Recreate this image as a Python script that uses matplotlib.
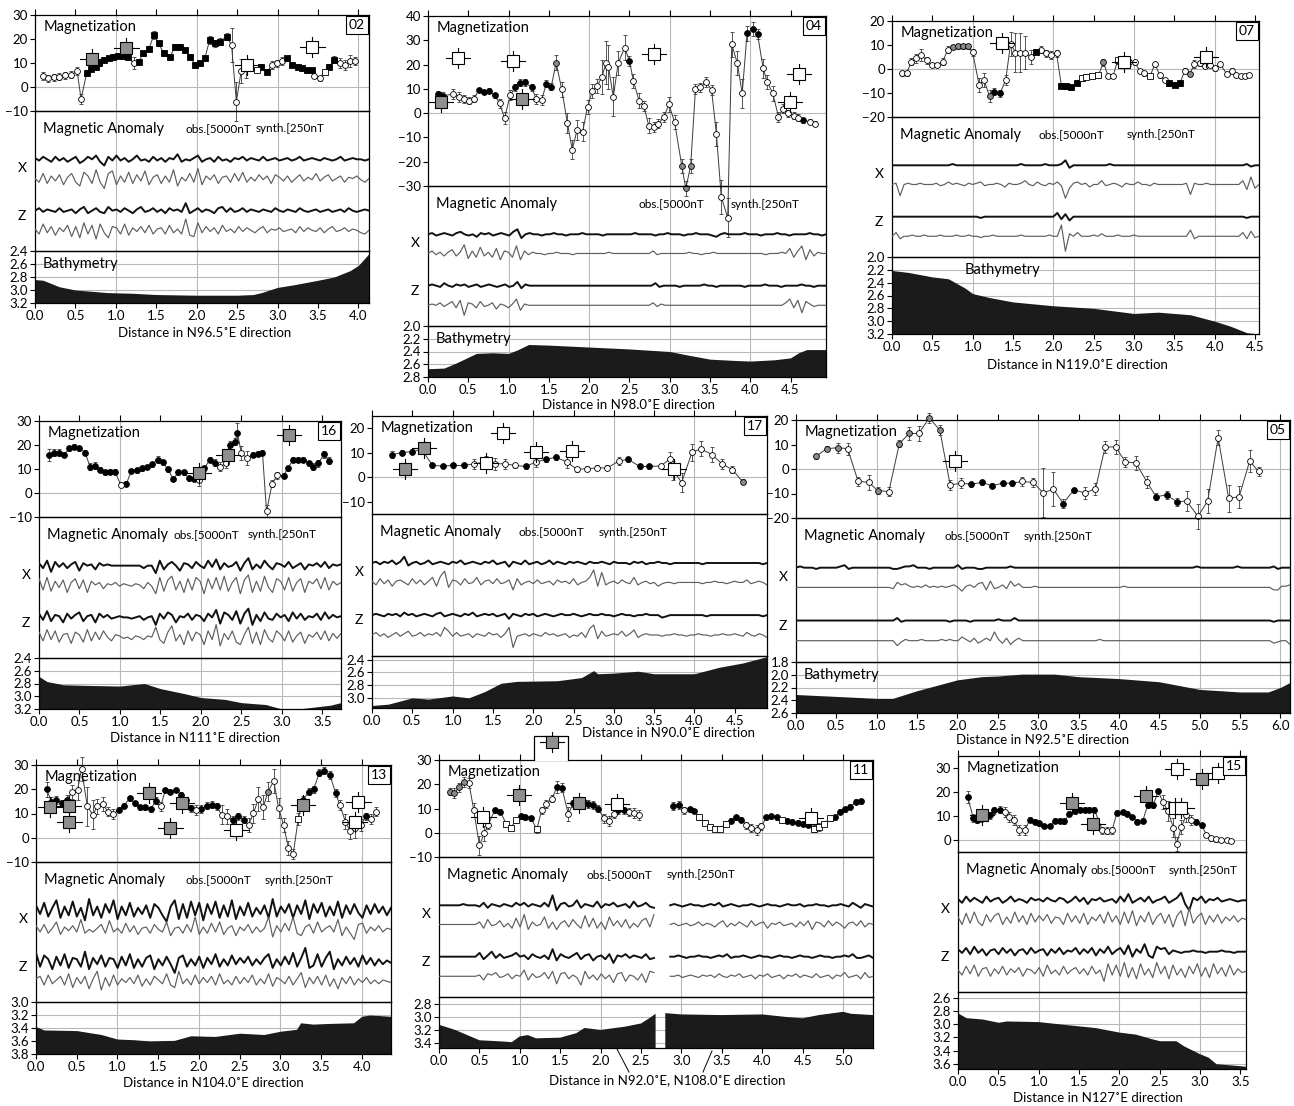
import numpy as np
import matplotlib
matplotlib.use("Agg")
import matplotlib.pyplot as plt
from matplotlib.lines import Line2D
from matplotlib.patches import Rectangle

plt.rcParams['font.family'] = ['Lato', 'DejaVu Sans']

W, H = 1294, 1106
fig = plt.figure(figsize=(W / 100, H / 100), dpi=100)

# ---------------------------------------------------------------- panel 02
P02_MX = [0.10,0.16,0.23,0.30,0.37,0.45,0.52,0.57,0.64,0.69,0.75,0.79,0.85,0.91,0.97,1.03,1.09,1.15,1.22,1.28,1.34,1.41,1.47,1.53,1.59,1.67,1.73,1.79,1.85,1.92,1.98,2.04,2.10,2.16,2.23,2.29,2.37,2.43,2.49,2.55,2.61,2.66,2.75,2.80,2.87,2.93,2.99,3.05,3.12,3.18,3.25,3.30,3.36,3.42,3.45,3.52,3.58,3.64,3.70,3.77,3.83,3.90,3.96]
P02_MY = [4.6,3.6,4.0,4.3,4.9,5.1,6.7,-5.0,6.0,7.5,8.5,9.9,11.3,12.0,12.6,13.0,13.0,12.6,9.9,10.5,14.0,16.0,21.7,18.2,14.0,12.6,16.8,16.8,15.4,12.6,9.2,9.9,12.0,19.6,18.2,18.9,21.0,17.5,-6.1,6.7,7.8,8.5,7.1,8.5,6.4,9.2,9.9,10.8,12.0,9.2,8.5,7.8,7.1,7.1,4.6,3.6,6.4,8.5,11.3,9.9,9.2,10.8,10.8]
P02_ME = [1.5,1.5,1.5,1.5,1.5,1.5,1.5,2,1,1,1,1,1,1,1,1,1,1,2.5,1,1,1,1.5,1,1,1,1,1,1,1,1,1,1,1.5,1.5,1.5,1.5,7,8,5,4,1,1,1,1,1.5,1.5,1.5,1,1,1,1,1,1,1,1,1,1,1.5,2,2,2.5,1.5]
P02_MT = "oooooooo" + "SSSSSSSSSS" + "o" + "SSSSSSSSSSSSSSSSSS" + "oooo" + "S" + "s" + "SS" + "ooo" + "SSSSSS" + "oo" + "s" + "SS" + "oooo"
P02_SQX = [0.71, 1.13, 2.62, 3.43]
P02_SQY = [11.5, 16.4, 9.2, 16.8]
P02_SQC = "ggww"
P02_OBSX = [1,-1,2,0,-2,2,-1,1,-2,0, 2,-3,-1,2,0,3,-2,-5,2,-1, 3,-1,1,-2,0,3,-1,0,-2,2, -1,1,-2,1,0,4,-2,0,-1,1, 3,-2,0,1,-2,2,-1,0,-2,1, 0,2,-1,1,0,-1,2,-1,0,1, -1,0,1,-1,0,2,-1,0,1,0, -1,1,0,-1,0,2,-1,0,1,0, 0,-1,0]
P02_SYNX = [0,-3,4,-4,2,-2,3,-5,1,4, -3,-6,5,2,-4,7,-3,-8,4,6, -5,2,-3,5,-4,3,-2,6,-5,1, 3,-4,2,-3,7,-6,1,-2,4,-3, 8,-5,2,-1,3,-4,1,2,-3,4, -2,5,-3,1,-2,3,-1,2,-4,3, 1,-2,2,-3,0,3,-2,1,-1,4, -2,1,3,-2,0,2,-3,1,0,2, -1,-3,0]
P02_OBSZ = [0,2,-1,1,0,-1,2,-1,0,1, -2,1,3,-2,0,2,-1,-2,3,0, 1,-1,2,0,-2,1,3,-1,0,2, -1,1,-2,2,0,1,-1,6,-2,0, 2,-1,1,0,-2,2,3,-1,2,-1, 0,2,-1,1,0,-1,1,0,-1,2, 0,-1,1,0,-1,2,0,-1,0,1, -1,0,1,-1,0,1,-1,2,0,-1, 0,1,0]
P02_SYNZ = [1,-3,5,-2,3,-4,2,-1,4,-5, 3,-6,6,-3,4,-7,5,-2,-6,3, 2,-3,5,-4,2,-1,3,-2,4,-3, 1,2,-3,4,-2,1,-3,9,-4,-5, 6,-2,3,-1,2,-3,4,-1,1,-2, 3,-1,2,0,-2,1,3,-2,1,0, 2,-1,0,1,-2,3,-1,2,0,-1, 2,-2,1,3,-1,0,2,-1,1,0, -2,-3,0]
P02_BX = [0,0.1,0.3,0.5,0.7,0.9,1.2,1.5,2.0,2.5,2.7,2.8,3.0,3.2,3.5,3.7,3.9,4.0,4.13]
P02_BY = [2.84,2.85,2.95,3.0,3.02,3.04,3.05,3.07,3.08,3.08,3.07,3.04,2.96,2.92,2.85,2.80,2.70,2.62,2.44]

# ---------------------------------------------------------------- panel 04
P04_MX = [0.12,0.19,0.31,0.38,0.45,0.51,0.57,0.63,0.70,0.76,0.83,0.89,0.95,1.02,1.08,1.14,1.20,1.29,1.34,1.41,1.47,1.53,1.59,1.66,1.73,1.79,1.85,1.92,1.98,2.04,2.10,2.16,2.21,2.24,2.30,2.36,2.44,2.50,2.55,2.62,2.68,2.74,2.80,2.86,2.93,2.99,3.06,3.15,3.20,3.26,3.32,3.38,3.45,3.52,3.58,3.64,3.72,3.77,3.84,3.90,3.96,4.03,4.09,4.16,4.21,4.28,4.35,4.41,4.47,4.54,4.59,4.66,4.74,4.80]
P04_MY = [7.7,7.2,7.8,6.7,5.8,5.1,5.9,9.5,8.7,9.2,7.3,4.0,-2.1,7.4,10.6,12.5,12.7,10.6,5.9,5.4,12.2,10.9,20.8,9.8,-4.0,-15.0,-7.0,-7.6,2.6,9.2,11.1,15.0,20.8,19.0,6.7,20.5,27.0,21.6,13.2,5.1,2.9,-5.2,-5.6,-4.3,-1.5,3.6,-3.6,-21.7,-31.0,-21.7,10.0,10.6,12.8,9.5,-8.7,-34.5,-43.0,28.3,20.5,8.1,32.9,34.7,32.6,18.4,12.9,8.1,-1.5,1.9,-0.1,-1.0,-1.8,-2.9,-3.6,-4.3]
P04_ME = [1.5,1.5,2,2,1.5,1.5,1.5,1,1,1,1,2,2.5,2,1.5,1.5,1.5,1.5,2,2,1.5,1.5,3,3,4,4,4,4,3,3,3,7,9,9,8,5,5,2,3,3,2,3,2,2,2,3,3,3,3,3,2,2,2,2,5,7,8,5,5,6,3,3,2,4,3,3,2,2,1.5,1.5,1.5,1,1,1]
P04_MT = "kk" + "ooooo" + "kkkk" + "ooo" + "kkkk" + "oo" + "kk" + "g" + "oooooooooooooo" + "k" + "ooooooooo" + "ggg" + "oooooooooo" + "kkk" + "oooooooo" + "k" + "oo"
P04_SQX = [0.16, 0.37, 1.06, 1.17, 2.80, 4.60, 4.49]
P04_SQY = [4.7, 22.6, 21.5, 6.0, 24.3, 16.1, 4.7]
P04_SQC = "gwwgwww"
P04_OBSX = [0,1,-1,0,1,0,-1,1,2,0, -1,0,-2,1,0,1,-1,0,1,0, -1,2,4,-3,0,1,0,0,-1,0, 0,1,0,0,-1,0,0,0,1,0, 0,0,0,-1,0,0,0,0,0,0, 0,1,0,0,0,0,-1,0,0,1, 0,0,0,-1,0,0,1,0,0,0, -1,-2,0,1,0,0,0,0,1,0, 0,0,-1,0,0,0,1,0,0,-1, 0,0,0,0,1,0,0,-1,0]
P04_SYNX = [0,2,-1,1,-2,1,3,-2,1,7, -4,2,-3,5,-2,1,-3,4,-5,2, 1,-3,6,-5,2,-1,1,0,0,-1, 0,0,1,0,0,0,-1,0,0,0, 0,0,0,0,0,1,0,0,0,0, 0,0,0,0,0,0,2,-1,0,0, 0,0,0,0,0,1,0,0,-1,0, 0,1,0,0,0,0,0,0,0,0, 0,0,0,0,-1,0,0,0,1,0, 4,-3,2,6,-5,3,-2,1,0,0]
P04_OBSZ = [0,1,0,-1,2,0,-1,1,0,1, -1,0,1,-1,0,1,0,-1,0,1, -1,0,3,-2,1,0,0,0,0,0, 0,0,0,0,0,0,0,0,0,0, 0,0,0,0,0,0,0,0,0,0, 0,0,0,0,0,0,2,-1,0,0, 0,0,-1,0,0,0,0,0,1,0, 0,-1,0,0,0,0,0,0,-1,0, 0,0,0,1,0,0,0,-1,0,0, 0,0,1,0,0,-1,0,0,0]
P04_SYNZ = [0,1,0,2,-1,1,3,-2,4,-8, 2,1,-2,3,-1,0,2,-3,1,0, -2,1,5,-4,1,0,0,0,0,0, 0,0,0,0,0,0,0,0,0,0, 0,0,0,0,0,0,0,0,0,0, 0,0,0,0,0,0,2,-1,1,0, 0,0,0,0,0,0,0,0,0,0, 0,0,0,0,0,0,0,0,0,0, 0,0,0,0,0,0,0,0,0,2, 5,-2,4,-6,3,1,-1,0,0,0]
P04_BX = [0,0.2,0.35,0.5,0.6,0.8,1.0,1.1,1.25,1.5,2.0,2.5,3.0,3.2,3.5,3.8,4.0,4.3,4.5,4.6,4.7,4.94]
P04_BY = [2.67,2.66,2.58,2.49,2.43,2.42,2.43,2.38,2.29,2.30,2.33,2.36,2.40,2.45,2.52,2.54,2.55,2.53,2.50,2.42,2.37,2.37]

# ---------------------------------------------------------------- panel 07
P07_MX = [0.12,0.18,0.24,0.30,0.36,0.43,0.49,0.56,0.63,0.69,0.76,0.82,0.88,0.94,1.00,1.08,1.14,1.21,1.27,1.34,1.41,1.47,1.53,1.59,1.65,1.72,1.79,1.85,1.91,1.97,2.04,2.10,2.16,2.22,2.29,2.35,2.41,2.48,2.56,2.62,2.68,2.74,2.80,2.87,2.94,3.01,3.07,3.13,3.20,3.26,3.32,3.38,3.44,3.51,3.57,3.63,3.69,3.75,3.82,3.88,3.94,4.00,4.07,4.15,4.21,4.27,4.33,4.38,4.43]
P07_MY = [-1.8,-1.8,3.0,4.4,5.8,3.7,1.7,1.7,3.0,8.1,9.2,9.5,9.5,9.5,6.9,-6.6,-4.6,-11.4,-9.4,-10.1,-4.6,10.6,6.8,6.8,6.8,5.1,7.2,8.1,6.5,5.8,6.5,-6.9,-7.2,-7.6,-5.7,-3.9,-3.2,-2.9,-2.6,2.8,-2.9,-2.9,3.7,2.1,2.8,2.8,-0.8,-1.8,-2.9,2.1,-2.6,-4.6,-5.9,-6.6,-5.9,-0.7,-2.1,2.1,2.3,1.4,1.7,0.3,2.1,-2.1,-0.7,-2.5,-2.9,-2.9,-2.5]
P07_ME = [1,1,1.5,2,2.5,1.5,1,1,1.5,1.5,1,1,1,1,1.5,3,3,2.5,1.5,1.5,2,5,8,8,7,3,1,1.5,1.5,1.5,1.5,1,1,1,1,1,1,1,1,1.5,1,1,1.5,1.5,1.5,1,1,1,1,1,1,1,1,1,1,1,1,1.5,1,1,1,1,1,1,1,1,1,1,1]
P07_MT = "oooooooooo" + "gggg" + "o" + "oo" + "g" + "kk" + "o" + "ooooo" + "S" + "oooo" + "SSSS" + "ssss" + "g" + "oosooooosooo" + "SSS" + "og" + "oooooooooooo"
P07_SQX = [1.36, 2.88, 3.89]
P07_SQY = [10.9, 3.0, 5.1]
P07_SQC = "www"
P07_OBSX = [0,0,0,0,0,0,0,0,0,0, 0,0,0,0,0,1,0,0,0,0, 0,0,0,0,0,0,0,0,0,0, 0,0,1,0,0,0,0,0,1,0, 0,0,1,4,-2,0,0,0,0,0, 0,0,0,0,1,0,0,0,0,0, 0,0,0,0,0,0,0,0,0,0, 0,0,0,0,0,0,0,0,0,0, 0,0,0,0,0,0,0,0,1,-1, 0,0]
P07_SYNX = [0,1,-9,0,1,0,0,1,0,0, 0,1,-1,0,2,0,1,0,-1,1, 0,1,2,-1,0,0,1,0,-2,1, 0,0,1,3,0,-1,2,0,-1,1, 0,2,-1,-11,-3,1,2,0,1,-2, 0,0,3,-1,0,1,0,-2,1,0, 0,2,0,0,-1,1,0,0,0,0, 0,0,0,1,-8,1,0,0,1,0, 0,0,0,0,0,0,0,3,-4,6, -3,0]
P07_OBSZ = [0,0,0,0,0,0,0,0,0,0, 0,0,0,0,0,0,0,0,0,0, 0,0,-1,0,0,0,0,0,0,0, 0,0,0,0,0,0,0,0,0,0, 0,3,-2,2,-3,0,0,0,0,0, 0,0,0,0,0,0,0,0,0,0, 0,0,0,0,0,0,0,0,0,0, 0,0,0,0,0,0,0,0,0,0, 0,0,0,0,0,0,0,0,-1,0, 0,0]
P07_SYNZ = [0,3,-2,0,0,1,0,0,1,0, 0,0,1,0,0,0,1,0,0,1, 0,0,-1,0,0,1,0,0,0,0, 0,0,1,0,0,0,0,0,0,1, 0,0,9,-12,2,0,3,0,0,0, 1,0,2,0,0,0,1,0,0,0, 1,0,0,0,0,0,0,0,0,0, 0,0,0,0,5,-2,0,0,0,0, 0,0,0,0,0,0,0,3,-2,4, -1,0]
P07_BX = [0,0.2,0.5,0.7,0.9,1.0,1.2,1.5,2.0,2.5,3.0,3.3,3.7,4.0,4.2,4.4,4.55]
P07_BY = [2.21,2.24,2.31,2.34,2.48,2.57,2.63,2.70,2.76,2.80,2.88,2.86,2.90,3.00,3.08,3.18,3.20]

# ---------------------------------------------------------------- panel 16
P16_MX = [0.12,0.19,0.25,0.31,0.37,0.43,0.50,0.57,0.63,0.69,0.75,0.81,0.88,0.94,1.01,1.08,1.14,1.21,1.27,1.33,1.39,1.47,1.53,1.59,1.66,1.72,1.79,1.85,1.91,1.98,2.04,2.11,2.17,2.24,2.31,2.36,2.42,2.45,2.50,2.57,2.64,2.70,2.76,2.81,2.88,2.94,3.02,3.07,3.14,3.20,3.26,3.33,3.39,3.45,3.52,3.58]
P16_MY = [15.9,16.8,16.8,15.9,18.6,19.3,18.6,16.8,11.0,11.3,9.7,8.7,8.8,8.8,3.4,3.9,9.2,9.4,10.3,10.8,12.0,13.8,12.8,9.9,5.8,8.6,8.6,6.2,5.8,5.5,10.3,13.8,12.7,11.0,12.4,20.0,21.4,25.1,16.6,14.5,15.9,16.3,16.8,-7.6,3.9,7.3,7.2,10.3,13.8,13.8,13.8,12.4,11.0,12.4,16.1,13.5]
P16_ME = [2.5,1.5,1.5,1,1,1,1,1,1.5,1.5,1,1,1,1,1,1,1,1,1,1,1,1.5,1,1,1,1,1,1,1,2.5,1,1,1.5,2,2,1.5,1.5,4,3,3,1,1,1,2.5,1.5,1.5,1,1,1,1,1,1,1.5,1.5,1.5,1.5]
P16_MT = "kkkkkkkkkkkkkk" + "ok" + "kkkkkkkkkkkkko" + "kkk" + "oo" + "kkk" + "oo" + "kkk" + "ooo" + "kkkkkkkkkk"
P16_SQX = [1.98, 2.33, 3.09]
P16_SQY = [8.3, 15.9, 24.1]
P16_SQC = "ggg"
P16_OBSX = [2,-2,4,-5,3,-1,2,-2,1,3, -4,2,0,1,-3,2,0,1,0,0, 0,0,0,0,0,0,-2,0,0,-6, 4,-3,1,3,0,-4,2,1,-2,3, 0,-2,4,-1,5,-3,2,-1,0,3, -4,2,6,-3,1,-2,4,0,-3,2, 1,-1,3,-2,0,2,-3,1,0,2, -1,3,-2,1,0,1]
P16_SYNX = [5,-4,6,-5,3,-2,4,-6,2,5, -3,4,-6,3,0,2,-3,1,0,2, -1,1,0,-1,1,0,-3,2,-1,-7, 6,-5,4,7,-4,3,-6,5,-4,6, 3,-7,5,-3,6,-4,7,-5,2,6, -7,4,8,-6,3,-5,7,-2,-6,5, 3,-4,6,-5,2,5,-6,3,1,5, -3,6,-4,3,0,2]
P16_OBSZ = [3,-2,5,-3,2,1,-4,3,-1,2, 4,-3,1,2,-4,3,0,2,-1,0, 1,0,0,-1,0,1,-2,0,1,-6, 3,-1,4,2,-4,1,0,3,-2,2, 1,-3,3,0,6,-5,4,2,-2,5, -5,3,7,-6,2,-3,4,-1,-2,3, 0,2,-3,4,-1,3,-2,1,0,3, -2,4,-1,2,0,1]
P16_SYNZ = [4,-3,6,-2,5,-4,2,3,-5,4, 2,-4,6,-3,4,-2,5,0,-3,2, 1,-1,0,-2,1,0,-2,1,0,8, -2,-5,4,9,-3,2,-6,5,-3,4, 2,-6,5,-2,10,-7,3,-2,5,-4, -6,2,8,-5,4,-6,6,-1,-4,5, 2,-3,5,-4,1,4,-5,2,0,4, -2,5,-3,3,-1,3]
P16_BX = [0,0.1,0.3,0.6,1.0,1.3,1.5,1.8,2.0,2.3,2.5,2.8,3.0,3.2,3.4,3.6,3.73]
P16_BY = [2.69,2.77,2.82,2.83,2.84,2.80,2.88,2.96,3.02,3.05,3.10,3.13,3.20,3.20,3.17,3.14,3.10]

# ---------------------------------------------------------------- panel 17
P17_MX = [0.25,0.37,0.50,0.62,0.75,0.88,1.00,1.14,1.27,1.41,1.53,1.65,1.78,1.91,2.03,2.16,2.28,2.42,2.54,2.67,2.79,2.92,3.06,3.18,3.32,3.44,3.58,3.70,3.74,3.84,3.97,4.08,4.22,4.34,4.47,4.60]
P17_MY = [9.2,10.1,10.5,11.3,4.8,4.6,4.8,4.8,5.5,6.2,5.5,5.5,4.8,4.4,6.2,7.3,8.2,6.2,3.2,3.5,3.8,3.8,6.6,7.3,4.4,4.4,4.6,7.5,2.8,-2.2,10.2,11.6,9.2,5.5,3.1,-1.9]
P17_ME = [1.5,1,1,1.5,1,1,1,1,2,2.5,2.5,2,1,1,2,1,1,2.5,1,1,1,1,1.5,1,1,1,1,3,4,4,3.5,3,3,2,1.5,1]
P17_MT = "kkkk" + "kkkk" + "ooooo" + "k" + "o" + "kk" + "oooooo" + "kkk" + "ooooooooo" + "g"
P17_SQX = [0.41, 0.65, 1.63, 1.41, 2.03, 2.48, 3.75]
P17_SQY = [3.5, 12.0, 18.0, 5.8, 10.2, 10.6, 3.5]
P17_SQC = "ggwwwww"
P17_OBSX = [0,1,-1,1,0,2,-1,1,5,-2, 0,1,-1,0,2,-1,0,1,0,-1, 1,0,2,-1,0,1,0,-1,1,0, 2,-1,0,1,-3,1,0,-1,2,-1, 0,1,-1,0,2,-1,1,0,-1,1, 0,1,0,-1,1,0,0,1,0,-1, 1,0,0,0,-1,1,0,1,-1,0, 0,1,0,0,-1,0,0,0,0,0, 0,0,-1,0,0,0,0,0,0,0, 0,0,0,0,0,0,0,-1,0]
P17_SYNX = [1,-2,3,-1,2,-3,1,2,0,-2, 3,-1,2,-2,1,4,-3,5,9,-4, 2,1,-2,3,-1,0,4,-2,1,2, -1,3,-1,0,2,-6,3,-2,0,1, -1,2,-1,0,1,-2,2,0,1,-1, 3,-2,0,1,4,10,-3,8,-2,0, 1,-1,2,0,-1,4,-2,0,1,-1, 0,-3,-1,0,0,-1,0,0,0,0, 0,0,-1,0,0,1,0,0,-1,0, 1,0,0,2,-1,0,1,0,-2]
P17_OBSZ = [0,1,0,-1,1,0,1,-1,2,0, 1,-1,0,1,0,-1,1,2,-1,0, 1,0,-1,1,0,2,-1,0,1,0, 1,-1,0,1,-3,1,0,-1,1,0, 1,-1,0,1,0,-1,0,1,0,0, 1,0,-1,0,1,0,0,1,0,0, -1,0,1,0,0,-1,0,0,1,0, 0,0,-2,-1,0,0,0,0,0,0, 0,0,0,-1,0,0,0,0,0,0, 0,0,0,0,0,0,0,-1,0]
P17_SYNZ = [0,2,-1,1,-2,0,2,-1,1,3, -1,0,2,-1,1,0,2,-1,6,3, -1,2,-1,0,1,-2,1,0,-1,2, 0,1,-2,1,6,-10,-1,0,1,-1, 1,0,-1,2,0,1,-1,0,1,-2, 0,-1,2,-2,5,8,-3,3,-1,0, 1,0,3,-1,1,4,-2,0,1,0, 0,0,-1,0,0,1,0,0,-1,0, 0,1,0,0,-1,0,0,1,0,0, 1,0,-1,2,0,-1,1,0,-2]
P17_BX = [0,0.2,0.5,0.7,1.0,1.2,1.4,1.6,1.8,2.3,2.6,2.75,2.8,3.0,3.3,3.5,4.0,4.3,4.6,4.9]
P17_BY = [3.12,3.10,3.00,3.02,2.97,3.00,2.90,2.77,2.74,2.73,2.68,2.57,2.62,2.61,2.58,2.62,2.62,2.52,2.45,2.35]

# ---------------------------------------------------------------- panel 05
P05_MX = [0.25,0.38,0.52,0.64,0.77,0.90,1.01,1.15,1.28,1.40,1.52,1.65,1.78,1.91,2.04,2.17,2.30,2.43,2.56,2.68,2.80,2.94,3.06,3.19,3.31,3.44,3.58,3.71,3.83,3.96,4.08,4.21,4.35,4.46,4.59,4.72,4.84,4.98,5.10,5.23,5.36,5.49,5.62,5.73]
P05_MY = [5.2,8.3,8.7,8.3,-5.1,-5.4,-8.8,-9.2,10.3,14.5,14.5,20.8,16.0,-6.5,-5.8,-6.2,-5.5,-6.8,-5.8,-5.8,-5.1,-5.5,-9.7,-8.3,-14.1,-8.6,-9.7,-8.1,9.0,9.0,2.9,2.5,-5.4,-11.3,-10.6,-13.4,-13.1,-19.3,-13.1,12.8,-12.0,-11.3,3.2,-1.0]
P05_ME = [1,1,2,2.5,2,3,1.5,2,1.5,2.5,3,2,2,2,2,1,1,1,1,1,2,2,10,7,2,1,2.5,2.5,2.5,3,2,3,2.5,1.5,1.5,1.5,4,5,5,3,5.5,4.5,4.5,2]
P05_MT = "ggg" + "o" + "oo" + "g" + "o" + "gg" + "o" + "gg" + "oo" + "kkkkk" + "oooo" + "kk" + "ooooooo" + "kkk" + "oooooooo"
P05_SQX = [1.97]
P05_SQY = [3.4]
P05_SQC = "w"
P05_OBSX = [0,1,0,0,0,-1,0,0,0,0, 0,1,2,-1,0,0,0,0,0,0, 0,0,0,0,-1,-1,0,1,1,2, 0,0,0,-1,0,0,0,0,0,0, 2,-1,0,0,0,-1,-1,0,0,0, 0,0,0,1,0,0,0,0,0,0, 0,0,0,0,0,0,0,0,0,0, 0,0,0,0,0,0,0,0,0,0, 0,0,0,0,0,0,0,0,0,0, 0,0,0,0,0,0,0,0,0,1, 0,0,0,0,0,0,0,0,0,1, 0,0,0,0,0,0,0,0,1,-1, 0,0,0]
P05_SYNX = [0,0,0,0,0,0,0,0,0,0, 0,0,0,0,0,0,0,0,0,0, 0,0,0,0,-1,4,2,3,1,0, 1,0,2,0,1,0,1,0,1,2, 0,-3,1,2,0,3,4,-2,5,-1, 0,2,-1,5,1,3,0,0,0,1, 0,0,0,0,0,0,0,0,0,0, 0,0,0,0,0,0,0,0,0,0, 0,1,0,0,0,0,0,0,0,0, 0,0,0,0,0,0,0,0,0,0, 0,0,0,0,0,0,0,0,0,0, 0,0,0,0,0,0,0,0,-2,-2, 1,1,2]
P05_OBSZ = [0,0,0,0,0,0,0,0,0,0, 0,0,0,0,0,0,0,0,0,0, 0,0,0,0,0,2,-1,0,0,0, 0,0,0,0,0,0,0,0,-1,0, 0,0,0,-1,0,0,0,0,0,0, 1,0,0,0,2,0,0,0,0,0, 0,0,0,0,0,0,0,0,0,0, 0,0,0,0,0,0,0,0,0,0, 0,0,0,0,0,0,0,0,0,0, 0,0,0,0,0,0,0,0,0,0, 0,0,0,0,0,0,0,0,0,0, 0,0,0,0,0,0,0,0,-1,0, 0,0,0]
P05_SYNZ = [0,0,0,0,0,0,0,0,0,0, 0,0,0,0,0,0,0,0,0,0, 0,0,0,0,0,-4,-1,1,0,0, 0,1,0,0,0,0,1,0,1,0, 0,3,1,-1,2,-2,0,2,0,7, 1,-2,2,-3,0,2,0,0,0,0, 0,0,0,0,0,0,0,0,0,0, 0,0,0,0,0,1,0,0,0,0, 0,0,0,0,0,0,0,0,0,0, 0,0,0,0,0,0,0,0,0,0, 0,0,0,0,0,0,0,0,0,0, 0,0,0,0,0,0,0,0,-2,-1, 0,0,-3]
P05_BX = [0,0.5,1.0,1.2,1.5,2.0,2.3,2.5,2.8,3.2,3.5,4.0,4.5,5.0,5.5,5.85,6.0,6.12]
P05_BY = [2.31,2.34,2.37,2.37,2.25,2.08,2.03,2.02,1.99,1.99,2.03,2.06,2.11,2.23,2.27,2.27,2.20,2.12]

# ---------------------------------------------------------------- panel 13
P13_MX = [0.13,0.19,0.25,0.32,0.38,0.44,0.51,0.56,0.63,0.70,0.75,0.82,0.88,0.95,1.02,1.08,1.15,1.22,1.28,1.34,1.41,1.47,1.53,1.59,1.65,1.72,1.78,1.84,1.90,1.97,2.03,2.10,2.16,2.22,2.28,2.35,2.42,2.48,2.55,2.61,2.67,2.73,2.79,2.85,2.92,2.98,3.04,3.10,3.16,3.22,3.28,3.35,3.41,3.48,3.54,3.61,3.68,3.73,3.80,3.86,3.92,3.99,4.05,4.12,4.18]
P13_MY = [20.0,14.9,15.6,14.2,15.6,18.8,19.7,28.4,12.9,9.5,12.9,14.0,10.8,9.9,11.5,13.2,16.3,14.2,12.6,12.6,11.8,15.3,12.9,19.7,19.0,19.7,17.7,15.6,12.2,11.5,11.8,13.2,13.6,12.9,9.5,8.8,7.4,8.8,7.4,5.3,10.1,15.9,12.6,19.0,23.4,12.2,5.3,-4.2,-6.6,7.7,15.6,19.0,20.0,26.8,27.7,25.9,18.4,13.6,6.7,2.6,4.0,5.3,8.8,7.7,10.8]
P13_ME = [3,2,1.5,1.5,2,3,4,5,8,6,3,3,2,2,1,1,1,1,1,1,1,1.5,2,1,1,1,1,1,1.5,2,1.5,1.5,1.5,1.5,4,3,1.5,1.5,1.5,3,4,5,5,4,5,4,3,3,2,2.5,1.5,1.5,1.5,1.5,1.5,1.5,1.5,2,3,3,4,2.5,1.5,2,2]
P13_MT = "kkkkk" + "ooo" + "oooooo" + "kkkkkkkk" + "o" + "kkkkkk" + "o" + "kkkk" + "oo" + "kkk" + "oooo" + "g" + "ooooo" + "s" + "kkkkkkk" + "ooooo" + "k" + "oo"
P13_SQX = [0.17, 0.40, 0.41, 1.39, 1.65, 1.79, 2.46, 3.96, 3.92, 3.28]
P13_SQY = [12.5, 13.2, 6.4, 18.4, 4.2, 14.2, 3.0, 14.9, 6.3, 13.6]
P13_SQC = "ggggggwwwg"
P13_OBSX = [4,-3,6,-5,2,8,-6,3,-4,7, -5,2,-8,9,-4,3,-6,5,-2,8, -7,3,-4,6,-5,2,-3,4,-6,5, 2,-4,-9,3,8,-7,5,-6,7,-4, 6,-8,5,-3,7,-6,4,-5,8,-7, 3,-4,6,-5,2,-3,4,-6,9,-5, 3,-2,5,-6,4,-3,8,-7,5,-2, 6,-5,3,-4,7,-6,4,-3,5,-2, -6,4,-3,5,-2,3,-4,2]
P13_SYNX = [3,-2,4,-3,1,6,-4,2,-1,3, -2,8,-3,0,-2,1,4,-3,7,-2, 1,-3,5,-2,3,-4,1,2,-3,4, 0,-2,6,-5,1,2,-3,4,-2,10, -4,2,-3,5,-2,6,-4,1,3,-5, 2,-1,4,-3,2,-2,1,10,-6,3, -2,5,-1,10,-3,-5,2,4,-3,6, -2,1,3,-2,8,-5,2,-3,-8,4, 5,-3,2,-1,3,-2,1,0]
P13_OBSZ = [7,-4,5,2,-6,4,-3,6,-5,3, 2,-4,8,-6,3,-2,5,-4,3,2, -5,4,-3,6,-5,2,-4,3,5,-6, 2,-3,4,-2,-9,3,5,-4,2,-3, 4,-5,3,-2,6,-4,2,-3,5,-2, 3,-1,4,-3,2,-2,3,6,-5,2, -3,4,-2,7,-4,3,11,-5,-3,6, -4,3,8,-6,2,-3,4,-2,3,-4, 5,-2,3,-3,2,-2,1,-1]
P13_SYNZ = [2,4,-3,5,-2,1,4,-3,6,-5, 3,-2,4,-6,2,8,-7,3,-4,5, -3,2,-1,3,-2,5,-4,2,-3,4, 1,-2,6,-3,-5,8,-2,2,-3,5, -2,3,-1,4,-3,6,-2,1,-3,4, -2,3,-1,5,-3,2,-2,6,-4,3, 1,-2,4,-3,2,7,-5,3,-2,4, -3,5,-4,2,-6,3,-2,4,-3,2, -1,3,-2,1,-2,1,0,-1]
P13_BX = [0,0.1,0.5,0.8,1.0,1.2,1.4,1.7,1.9,2.2,2.5,2.8,3.0,3.2,3.25,3.4,3.6,3.9,4.0,4.1,4.36]
P13_BY = [3.38,3.43,3.44,3.50,3.57,3.58,3.60,3.59,3.52,3.53,3.48,3.50,3.45,3.42,3.32,3.34,3.33,3.32,3.22,3.20,3.22]

# ---------------------------------------------------------------- panel 11
P11_MX = [0.13,0.19,0.25,0.31,0.37,0.43,0.50,0.56,0.61,0.69,0.76,0.83,0.89,0.95,1.01,1.07,1.14,1.21,1.27,1.33,1.40,1.46,1.52,1.60,1.66,1.72,1.78,1.84,1.91,1.97,2.04,2.10,2.16,2.22,2.29,2.35,2.41,2.47,
          2.90,2.97,3.03,3.10,3.16,3.22,3.29,3.35,3.42,3.48,3.55,3.61,3.68,3.74,3.80,3.86,3.93,3.99,4.05,4.11,4.18,4.25,4.31,4.37,4.44,4.50,4.56,4.64,4.70,4.76,4.84,4.90,4.96,5.02,5.09,5.16,5.22]
P11_MY = [16.9,16.5,18.7,21.0,20.6,9.3,-5.2,-0.3,3.4,9.3,8.6,3.8,2.0,5.2,6.8,6.3,5.9,1.4,9.3,11.8,14.1,19.0,18.6,7.7,12.1,12.3,13.0,11.8,11.4,10.0,5.9,4.9,7.7,9.3,9.3,8.6,8.2,7.2,
          11.0,11.4,9.3,9.6,9.0,6.3,4.1,2.4,1.7,1.7,3.8,4.9,6.3,5.4,3.1,2.0,1.0,2.7,6.3,6.8,6.3,5.2,4.9,4.5,4.1,3.8,3.4,1.7,2.4,3.8,5.9,6.3,8.6,9.6,10.7,12.8,13.0]
P11_ME = [1.5,2,2,2,2,3,4,3,2,1,1,1,1,1,1,1,1,1.5,1.5,1.5,1.5,2.5,2,3,1.5,1.5,1.5,1.5,1.5,1.5,2,2,1.5,1.5,1.5,1.5,2,2,
          1.5,1.5,1.5,1,1,1,1,1,1,1,1,1,1,1,1.5,1.5,2,1.5,1,1,1,1,1,1,1,1,1,1.5,1.5,1,1,1,1,1,1,1,1]
P11_MT = ("gggg" + "ooooo" + "kk" + "sss" + "kkk" + "sooo" + "kk" + "o" + "kkkkkk" + "ooo" + "kk" + "ooo"
          + "kk" + "o" + "kk" + "ssssss" + "kkk" + "oooo" + "kkk" + "s" + "kkkkk" + "ssss" + "kkkkkk")
P11_SQX = [1.40, 0.55, 0.99, 1.73, 2.20, 4.60]
P11_SQY = [37.3, 6.3, 15.5, 12.1, 11.8, 5.9]
P11_SQC = "gwggww"
P11_OBSX = [0,0,0,0,0,0,1,0,0,0, -1,2,-2,1,0,-1,1,0,-1,2, 0,2,-1,1,0,-1,2,-1,8,-4, 1,2,-1,0,4,-2,1,0,-1,3, -2,1,0,2,-1,0,1,-2,3,-1, 0,2,-1,-2, None,None,None,
            0,1,0,-1,0,1,0,0,-1,0, 1,0,2,-1,0,1,0,-1,0,0, 1,0,-1,0,1,0,0,-1,0,1, 0,0,1,-1,0,0,1,0,0,-1, 0,0,1,0,-1,2,0,-2,1,0, -1]
P11_SYNX = [0,0,0,0,0,0,0,0,0,0, 2,-3,4,-1,0,3,-2,1,-3,5, -2,8,-4,2,-1,0,6,-3,2,-4, 1,3,-2,4,0,-3,7,-2,5,-3, 2,-4,6,-1,3,-2,4,-3,1,-2, 3,5,-2,8, None,None,None,
            0,1,-1,0,1,-1,0,2,-1,1, 0,-2,1,3,-2,1,-1,2,0,-2, 3,-1,1,2,-3,1,0,2,-1,0, 1,-2,2,-1,3,-4,2,1,-2,3, -1,2,0,-3,1,2,-1,3,-2,1, 0]
P11_OBSZ = [0,0,0,0,0,0,0,0,0,0, 3,-2,1,4,-1,2,-1,0,1,3, 0,1,-2,2,0,-1,1,-2,6,-3, 2,0,-1,1,3,-2,1,2,-3,0, 1,-2,2,-5,1,0,2,-1,1,0, -1,2,-2,-1, None,None,None,
            0,0,1,0,-1,0,0,1,0,0, -1,0,1,0,2,-1,0,0,1,0, -1,0,1,0,0,-1,0,1,0,0, -1,0,1,0,0,-1,0,1,0,0, -1,0,0,1,0,2,-1,-1,0,1, -1]
P11_SYNZ = [0,0,0,0,0,0,0,0,0,0, 1,-3,2,1,3,-1,0,2,-2,1, 0,5,-3,2,-1,0,3,-2,4,-6, 2,3,-2,1,-1,-7,4,-2,1,-3, 2,-2,1,-5,2,3,-4,1,0,-3, 2,-5,4,3, None,None,None,
            0,0,1,-1,0,1,0,-1,1,0, 1,-1,2,0,-1,1,0,2,-1,0, 1,-2,1,0,2,-1,0,1,-2,1, 0,2,-1,1,0,-1,2,-1,0,1, -2,1,0,3,-1,0,1,-2,3,-1, 0]
P11_BX = [0,0.2,0.5,0.8,0.9,1.0,1.1,1.2,1.5,1.7,1.8,2.0,2.3,2.5,2.6,2.68,2.74,2.80,3.0,3.5,4.0,4.3,4.5,4.7,5.0,5.1,5.37]
P11_BY = [3.12,3.20,3.36,3.38,3.39,3.30,3.28,3.33,3.32,3.25,3.17,3.20,3.15,3.10,3.02,2.95,None,2.94,2.96,2.97,2.96,3.00,3.02,2.97,2.92,2.95,2.97]

# ---------------------------------------------------------------- panel 15
P15_MX = [0.12,0.19,0.24,0.29,0.35,0.40,0.45,0.52,0.58,0.63,0.69,0.76,0.83,0.89,0.95,1.01,1.07,1.14,1.20,1.26,1.32,1.38,1.45,1.51,1.57,1.63,1.69,1.79,1.85,1.91,1.97,2.04,2.10,2.16,2.22,2.29,2.35,2.42,2.48,2.54,2.60,2.67,2.71,2.77,2.83,2.89,2.95,3.02,3.08,3.14,3.20,3.26,3.33,3.39]
P15_MY = [17.9,9.2,8.5,9.2,9.6,10.3,12.4,12.7,11.7,9.6,8.3,4.1,4.1,8.5,7.6,6.9,5.8,5.8,8.0,8.0,7.8,11.0,12.0,12.7,12.7,12.7,12.7,4.1,3.9,4.1,11.3,11.7,11.0,9.6,7.6,8.0,14.4,14.4,20.4,15.8,12.1,5.2,-1.7,5.5,10.3,8.3,7.6,6.2,2.1,0.7,0.3,0.0,0.0,-0.4]
P15_ME = [2.5,1.5,1.5,1.5,1.5,1.5,1.5,1.5,2,2,2,2,2,1,1,1,1,1,1,1,1,1,1,1,1,1,1,1.5,1.5,1.5,1,1,1,1,1,1,1,1,1,3,4,4,3,3,3,2,1,1,1,1,1,1,1,1]
P15_MT = "kkkkkkkk" + "ooooo" + "kkkkkkkkkkkkkk" + "ooo" + "kkkkkkkkk" + "ooooooo" + "kk" + "oooooo"
P15_SQX = [0.30, 1.41, 1.67, 2.33, 2.71, 3.02, 3.22, 2.69, 2.77]
P15_SQY = [10.6, 15.5, 6.6, 18.2, 29.6, 25.4, 27.9, 13.5, 13.5]
P15_SQC = "ggggwgwww"
P15_OBSX = [1,-2,3,-1,2,0,-2,3,-1,1, 2,-2,0,3,-1,1,0,-2,2,0, 1,-1,2,0,-1,2,1,-2,0,3, -1,2,-3,1,0,2,-1,0,1,-2, 3,-1,5,-2,0,2,-1,3,-2,0, 1,3,-2,0,2,6,-3,-8,2,0, 3,-2,1,0,2,-1,0,1,0,-1, 0,0]
P15_SYNX = [2,-4,5,-3,6,-2,-5,4,-2,3, 5,-4,2,-3,6,-2,3,-4,5,-2, 3,-1,4,-3,2,1,-4,5,-2,3, -3,5,-4,2,-1,4,-3,6,-2,3, -4,6,-3,7,-5,3,-2,6,-4,2, 5,-3,4,-6,3,7,-5,9,-3,2, 5,-4,3,-2,4,-3,2,-1,3,-2, 1,0]
P15_OBSZ = [2,-1,3,-2,4,-1,2,-3,1,2, -2,3,-1,2,-3,1,2,-2,3,-1, 1,2,-3,2,-1,3,-2,1,0,3, -2,2,-1,3,-3,2,-1,4,-2,1, 3,-2,5,-4,2,-1,6,-3,-5,4, 2,3,-2,1,0,-1,0,0,1,0, 0,-1,0,0,0,1,0,0,-1,0, 0,0]
P15_SYNZ = [1,-3,4,-2,5,-4,2,3,-4,2, -2,4,-3,2,-1,3,-4,2,1,-2, 3,-4,5,-2,1,-3,4,-2,1,3, -2,2,-3,4,-2,1,-8,6,-3,5, -4,7,-5,3,-6,6,-3,2,-5,7, -2,4,-6,5,-3,2,-5,4,-2,6, -4,3,-5,6,-2,3,-4,5,-3,2, -1,0]
P15_BX = [0,0.1,0.3,0.5,0.6,1.0,1.3,1.7,2.0,2.2,2.4,2.5,2.7,2.8,3.0,3.1,3.2,3.5,3.57]
P15_BY = [2.83,2.90,2.92,2.97,2.95,2.96,3.00,3.05,3.12,3.15,3.22,3.25,3.25,3.33,3.45,3.50,3.60,3.63,3.64]

# ---------------------------------------------------------------- layout / drawing
TRACE_BASE = [0.655, 0.518, 0.288, 0.148]
TRACE_COL = ['#111111', '#5e5e5e', '#111111', '#5e5e5e']
TRACE_LW = [1.4, 0.85, 1.4, 0.85]
TRACE_GAIN = 1.25          # pixels per listed unit
GRID = '#b8b8b8'
STYLE = {'k': ('o', 'black'), 'o': ('o', 'white'), 'g': ('o', '#8a8a8a'),
         'S': ('s', 'black'), 's': ('s', 'white')}


def pax(l, t, r, b):
    return fig.add_axes([l / W, 1 - b / H, (r - l) / W, (b - t) / H])


def draw_panel(P):
    l, t, r, mb, ab, b = P['box']
    xmax = P['xmax']
    axm, axa, axb = pax(l, t, r, mb), pax(l, mb, r, ab), pax(l, ab, r, b)
    for ax in (axm, axa, axb):
        ax.set_xlim(0, xmax)
        ax.patch.set_alpha(0)
        for s in ax.spines.values():
            s.set_linewidth(0.9)
        for xv in np.arange(1.0, xmax, 1.0):
            ax.axvline(xv, color=GRID, lw=0.8, zorder=0)

    # ---- magnetization
    ylo, yhi = P['mylim']
    axm.set_ylim(ylo, yhi)
    axm.set_yticks(P['myticks'])
    axm.set_yticklabels([str(v).replace('-', '\u2212') for v in P['myticks']])
    axm.set_xticks(np.arange(0, xmax + 1e-6, 0.5))
    axm.tick_params(axis='x', bottom=False, top=True, labelbottom=False,
                    direction='out', length=4, width=0.8)
    axm.tick_params(axis='y', direction='out', length=3.5, width=0.8,
                    labelsize=9.5, pad=1.5)
    axm.axhline(0, color=GRID, lw=0.8, zorder=0)
    mx, my, me, mt = P['mag']
    n = min(len(mx), len(my), len(me), len(mt))
    x = np.array(mx[:n], float)
    y = np.array(my[:n], float)
    e = np.array(me[:n], float)
    brk = np.where(np.diff(x) > 0.3)[0] + 1
    for seg in np.split(np.arange(n), brk):
        axm.plot(x[seg], y[seg], color='#3a3a3a', lw=0.7, zorder=3, clip_on=False)
    axm.vlines(x, y - e, y + e, color='#3a3a3a', lw=0.6, zorder=3, clip_on=False)
    for yy in (y - e, y + e):
        axm.plot(x, yy, ls='none', marker='_', ms=3, mew=0.6, color='#3a3a3a',
                 zorder=3, clip_on=False)
    for code, (mk, fc) in STYLE.items():
        sel = np.array([c == code for c in mt[:n]])
        if sel.any():
            axm.plot(x[sel], y[sel], ls='none', marker=mk,
                     ms=(4.2 if mk == 'o' else 4.0), mfc=fc,
                     mec='black', mew=0.6, zorder=4, clip_on=False)
    upx = (yhi - ylo) / (mb - t)
    if P.get('tab'):
        x0, x1, ytop = P['tab']
        axm.add_patch(Rectangle((x0, yhi - 0.5), x1 - x0, ytop - yhi + 0.5,
                                fc='white', ec='none', zorder=2.6, clip_on=False))
        axm.plot([x0, x0, x1, x1], [yhi, ytop, ytop, yhi], color='black',
                 lw=0.9, zorder=2.7, clip_on=False)
    sx, sy, sc = P['sq']
    for xs, ys, c in zip(sx, sy, sc):
        axm.plot([xs - 0.15, xs + 0.15], [ys, ys], color='black', lw=0.8,
                 zorder=5, clip_on=False)
        axm.plot([xs, xs], [ys - 10 * upx, ys + 10 * upx], color='black', lw=0.8,
                 zorder=5, clip_on=False)
        axm.plot([xs], [ys], marker='s', ms=8, mfc=('#8f8f8f' if c == 'g' else 'white'),
                 mec='black', mew=0.8, zorder=6, clip_on=False)
    axm.text(9 / (r - l), 1 - 12 / (mb - t), 'Magnetization', transform=axm.transAxes,
             fontsize=10.5, va='center', ha='left', zorder=7)
    axm.text(1 - 4 / (r - l), 1 - 10 / (mb - t), P['name'], transform=axm.transAxes,
             fontsize=10, va='center', ha='right', zorder=8,
             bbox=dict(boxstyle='square,pad=0.22', fc='white', ec='black', lw=0.8))

    # ---- magnetic anomaly
    h = ab - mb
    axa.set_ylim(0, h)
    axa.set_xticks([])
    axa.set_yticks([])
    for vals, frac, col, lw in zip(P['traces'], TRACE_BASE, TRACE_COL, TRACE_LW):
        v = np.array(vals, dtype=float)
        xs = np.linspace(0, xmax, len(v))
        axa.plot(xs, frac * h + TRACE_GAIN * v, color=col, lw=lw, zorder=3)
    ty = 1 - 18 / h
    axa.text(8 / (r - l), ty, 'Magnetic Anomaly', transform=axa.transAxes,
             fontsize=10.5, va='center', ha='left')
    axa.text(P['obs'][0], ty, 'obs.[5000nT', transform=axa.transAxes,
             fontsize=8.5, va='center', ha='left')
    axa.text(P['obs'][1], ty, 'synth.[250nT', transform=axa.transAxes,
             fontsize=8.5, va='center', ha='left')
    axa.text(-13 / (r - l), 0.59, 'X', transform=axa.transAxes, fontsize=10,
             ha='center', va='center')
    axa.text(-13 / (r - l), 0.25, 'Z', transform=axa.transAxes, fontsize=10,
             ha='center', va='center')

    # ---- bathymetry
    bbot, btop = P['bylim']
    axb.set_ylim(bbot, btop)
    axb.set_yticks(P['byticks'])
    axb.set_yticklabels(['%.1f' % v for v in P['byticks']])
    for v in P['byticks']:
        axb.axhline(v, color=GRID, lw=0.8, zorder=0)
    bx = np.array(P['bathy'][0], float)
    by = np.array(P['bathy'][1], dtype=float)
    axb.fill_between(bx, by, bbot, color='#1b1b1b', lw=0, zorder=2)
    xt = np.arange(0, xmax + 1e-6, 0.5)
    axb.set_xticks(xt)
    axb.set_xticklabels(['%.1f' % v for v in xt])
    axb.tick_params(axis='both', direction='out', length=3.5, width=0.8,
                    labelsize=9.5, pad=1.5)
    if P.get('blabel') is not None:
        axb.text(P['blabel'] / (r - l), 1 - 13 / (b - ab), 'Bathymetry',
                 transform=axb.transAxes, fontsize=10.5, va='center', ha='left', zorder=4)
    cx, cy = P['xlab']
    fig.text(cx / W, 1 - cy / H, P['xlabel'], fontsize=9.5, ha='center', va='center')


PANELS = [
    dict(name='02', box=(35, 15, 369, 111, 251, 303), xmax=4.13,
         mylim=(-10, 30), myticks=[-10, 0, 10, 20, 30],
         bylim=(3.2, 2.4), byticks=[2.4, 2.6, 2.8, 3.0, 3.2],
         mag=(P02_MX, P02_MY, P02_ME, P02_MT), sq=(P02_SQX, P02_SQY, P02_SQC),
         traces=[P02_OBSX, P02_SYNX, P02_OBSZ, P02_SYNZ], bathy=(P02_BX, P02_BY),
         obs=(0.45, 0.66), blabel=8, xlabel='Distance in N96.5\u02daE direction', xlab=(205, 333)),
    dict(name='04', box=(428, 16, 826, 186, 326, 377), xmax=4.94,
         mylim=(-30, 40), myticks=[-30, -20, -10, 0, 10, 20, 30, 40],
         bylim=(2.8, 2.0), byticks=[2.0, 2.2, 2.4, 2.6, 2.8],
         mag=(P04_MX, P04_MY, P04_ME, P04_MT), sq=(P04_SQX, P04_SQY, P04_SQC),
         traces=[P04_OBSX, P04_SYNX, P04_OBSZ, P04_SYNZ], bathy=(P04_BX, P04_BY),
         obs=(0.53, 0.76), blabel=8, xlabel='Distance in N98.0\u02daE direction', xlab=(629, 405)),
    dict(name='07', box=(892, 21, 1259, 117, 257, 334), xmax=4.55,
         mylim=(-20, 20), myticks=[-20, -10, 0, 10, 20],
         bylim=(3.2, 2.0), byticks=[2.0, 2.2, 2.4, 2.6, 2.8, 3.0, 3.2],
         mag=(P07_MX, P07_MY, P07_ME, P07_MT), sq=(P07_SQX, P07_SQY, P07_SQC),
         traces=[P07_OBSX, P07_SYNX, P07_OBSZ, P07_SYNZ], bathy=(P07_BX, P07_BY),
         obs=(0.40, 0.64), blabel=73, xlabel='Distance in N119.0\u02daE direction', xlab=(1077, 365)),
    dict(name='16', box=(39, 421, 341, 517, 658, 709), xmax=3.73,
         mylim=(-10, 30), myticks=[-10, 0, 10, 20, 30],
         bylim=(3.2, 2.4), byticks=[2.4, 2.6, 2.8, 3.0, 3.2],
         mag=(P16_MX, P16_MY, P16_ME, P16_MT), sq=(P16_SQX, P16_SQY, P16_SQC),
         traces=[P16_OBSX, P16_SYNX, P16_OBSZ, P16_SYNZ], bathy=(P16_BX, P16_BY),
         obs=(0.447, 0.69), blabel=None, xlabel='Distance in N111\u02daE direction', xlab=(195, 738)),
    dict(name='17', box=(372, 416, 767, 514, 656, 708), xmax=4.90,
         mylim=(-15, 25), myticks=[-10, 0, 10, 20],
         bylim=(3.16, 2.34), byticks=[2.4, 2.6, 2.8, 3.0],
         mag=(P17_MX, P17_MY, P17_ME, P17_MT), sq=(P17_SQX, P17_SQY, P17_SQC),
         traces=[P17_OBSX, P17_SYNX, P17_OBSZ, P17_SYNZ], bathy=(P17_BX, P17_BY),
         obs=(0.37, 0.575), blabel=None, xlabel='Distance in N90.0\u02daE direction', xlab=(668, 733)),
    dict(name='05', box=(796, 420, 1290, 518, 662, 713), xmax=6.12,
         mylim=(-20, 20), myticks=[-20, -10, 0, 10, 20],
         bylim=(2.6, 1.8), byticks=[1.8, 2.0, 2.2, 2.4, 2.6],
         mag=(P05_MX, P05_MY, P05_ME, P05_MT), sq=(P05_SQX, P05_SQY, P05_SQC),
         traces=[P05_OBSX, P05_SYNX, P05_OBSZ, P05_SYNZ], bathy=(P05_BX, P05_BY),
         obs=(0.30, 0.46), blabel=8, xlabel='Distance in N92.5\u02daE direction', xlab=(1043, 740)),
    dict(name='13', box=(36, 765, 391, 862, 1002, 1054), xmax=4.36,
         mylim=(-10, 30), myticks=[-10, 0, 10, 20, 30],
         bylim=(3.8, 3.0), byticks=[3.0, 3.2, 3.4, 3.6, 3.8],
         mag=(P13_MX, P13_MY, P13_ME, P13_MT), sq=(P13_SQX, P13_SQY, P13_SQC),
         traces=[P13_OBSX, P13_SYNX, P13_OBSZ, P13_SYNZ], bathy=(P13_BX, P13_BY),
         obs=(0.42, 0.645), blabel=None, xlabel='Distance in N104.0\u02daE direction', xlab=(213, 1083)),
    dict(name='11', box=(439, 760, 873, 857, 997, 1048), xmax=5.37,
         mylim=(-10, 30), myticks=[-10, 0, 10, 20, 30],
         bylim=(3.48, 2.69), byticks=[2.8, 3.0, 3.2, 3.4],
         mag=(P11_MX, P11_MY, P11_ME, P11_MT), sq=(P11_SQX, P11_SQY, P11_SQC),
         traces=[P11_OBSX, P11_SYNX, P11_OBSZ, P11_SYNZ], bathy=(P11_BX, P11_BY),
         obs=(0.34, 0.525), blabel=None, tab=(1.18, 1.60, 40.0),
         xlabel='Distance in N92.0\u02daE, N108.0\u02daE direction', xlab=(667, 1080)),
    dict(name='15', box=(958, 756, 1246, 852, 992, 1069), xmax=3.57,
         mylim=(-5, 35), myticks=[0, 10, 20, 30],
         bylim=(3.68, 2.51), byticks=[2.6, 2.8, 3.0, 3.2, 3.4, 3.6],
         mag=(P15_MX, P15_MY, P15_ME, P15_MT), sq=(P15_SQX, P15_SQY, P15_SQC),
         traces=[P15_OBSX, P15_SYNX, P15_OBSZ, P15_SYNZ], bathy=(P15_BX, P15_BY),
         obs=(0.46, 0.73), blabel=None, xlabel='Distance in N127\u02daE direction', xlab=(1098, 1098)),
]

for P in PANELS:
    draw_panel(P)

# leader lines of panel 11's axis title
for (xa, ya, xb, yb) in [(617, 1049, 629, 1072), (712, 1051, 703, 1072)]:
    fig.add_artist(Line2D([xa / W, xb / W], [1 - ya / H, 1 - yb / H], color='black', lw=0.7))

fig.savefig('out.png', dpi=100, facecolor='white')
